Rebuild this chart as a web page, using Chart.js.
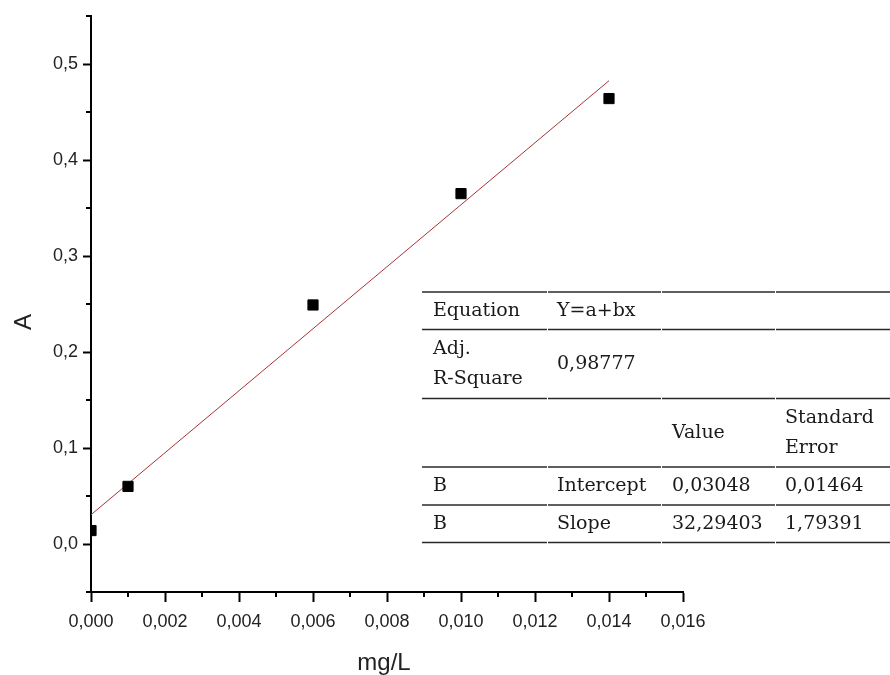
<!DOCTYPE html>
<html>
<head>
<meta charset="utf-8">
<style>
  html, body { margin: 0; padding: 0; background: #fff; }
  #calChart { display: block; }
</style>
<script src="https://cdn.jsdelivr.net/npm/chart.js@4.4.1/dist/chart.umd.min.js"></script>
</head>
<body>
<canvas id="calChart" width="890" height="675"></canvas>
<script>
// measured points (concentration in mg/L, absorbance)
const concentrations = [0, 0.001, 0.006, 0.010, 0.014];
const absorbances = [0.014, 0.060, 0.249, 0.365, 0.464];

// linear fit Y = a + bx drawn between the first and last concentration
const fitX = [0, 0.014];
const fitY = [0.0305, 0.4826];

const xMajorTicks = [0, 0.002, 0.004, 0.006, 0.008, 0.010, 0.012, 0.014, 0.016];
const xMinorTicks = [0.001, 0.003, 0.005, 0.007, 0.009, 0.011, 0.013, 0.015];
const yMajorTicks = [0, 0.1, 0.2, 0.3, 0.4, 0.5];
const yMinorTicks = [-0.05, 0.05, 0.15, 0.25, 0.35, 0.45, 0.55];

const xTitle = 'mg/L';
const yTitle = 'A';

const tableRows = [
	['Equation', 'Y=a+bx', '', ''],
	['Adj.\nR-Square', '0,98777', '', ''],
	['', '', 'Value', 'Standard\nError'],
	['B', 'Intercept', '0,03048', '0,01464'],
	['B', 'Slope', '32,29403', '1,79391'],
];

const canvas = document.querySelector('#calChart');
const sansFont = "'Liberation Sans', Arial, sans-serif";
const serifFont = "'DejaVu Serif', serif";

function commaNumber(value, digits) {
	return Number(value).toFixed(digits).replace('.', ',');
}

const minorTicks = {
	id: 'minorTicks',
	afterDraw(chart) {
		const { ctx, chartArea, scales } = chart;
		ctx.save();
		ctx.strokeStyle = '#000';
		ctx.lineWidth = 2;
		ctx.beginPath();
		for (const v of xMinorTicks) {
			const px = Math.round(scales.x.getPixelForValue(v));
			ctx.moveTo(px, chartArea.bottom);
			ctx.lineTo(px, chartArea.bottom + 5);
		}
		for (const v of yMinorTicks) {
			const py = Math.round(scales.y.getPixelForValue(v));
			ctx.moveTo(chartArea.left, py);
			ctx.lineTo(chartArea.left - 5, py);
		}
		ctx.stroke();
		ctx.restore();
	},
};

const axisTitles = {
	id: 'axisTitles',
	afterDraw(chart) {
		const { ctx } = chart;
		ctx.save();
		ctx.fillStyle = '#222';
		ctx.font = `24px ${sansFont}`;
		ctx.textAlign = 'center';
		ctx.textBaseline = 'middle';
		ctx.fillText(xTitle, 384, 663);
		ctx.translate(24, 322);
		ctx.rotate(-Math.PI / 2);
		ctx.fillText(yTitle, 0, 0);
		ctx.restore();
	},
};

const fitTable = {
	id: 'fitTable',
	afterDraw(chart) {
		const { ctx } = chart;
		const colLeft = [422, 548, 662, 776];
		const colRight = [547, 661, 775, 890];
		const textX = [433, 557, 672, 785];
		const rowLines = [292, 329.5, 398.5, 467, 505, 542.5];
		ctx.save();
		ctx.strokeStyle = '#2a2a2a';
		ctx.lineWidth = 1.5;
		for (const y of rowLines) {
			for (let c = 0; c < colLeft.length; c += 1) {
				ctx.beginPath();
				ctx.moveTo(colLeft[c], y);
				ctx.lineTo(colRight[c], y);
				ctx.stroke();
			}
		}
		ctx.fillStyle = '#1a1a1a';
		ctx.font = `19px ${serifFont}`;
		ctx.textAlign = 'left';
		ctx.textBaseline = 'middle';
		tableRows.forEach((row, r) => {
			const mid = (rowLines[r] + rowLines[r + 1]) / 2;
			row.forEach((cell, c) => {
				if (!cell) return;
				const lines = cell.split('\n');
				const lineGap = 30;
				const start = mid - ((lines.length - 1) * lineGap) / 2;
				lines.forEach((line, i) => ctx.fillText(line, textX[c], start + i * lineGap));
			});
		});
		ctx.restore();
	},
};

new Chart(canvas.getContext('2d'), {
	type: 'scatter',
	data: {
		datasets: [
			{
				type: 'line',
				data: fitX.map((x, i) => ({ x, y: fitY[i] })),
				borderColor: '#a83236',
				borderWidth: 1,
				pointRadius: 0,
				tension: 0,
				fill: false,
				order: 2,
			},
			{
				data: concentrations.map((x, i) => ({ x, y: absorbances[i] })),
				pointStyle: 'rect',
				pointRadius: 7.2,
				backgroundColor: '#000',
				borderColor: '#000',
				borderWidth: 1,
				clip: { left: 0, top: 0, right: 0, bottom: 0 },
				order: 1,
			},
		],
	},
	options: {
		responsive: false,
		animation: false,
		layout: { padding: { top: 16, right: 207, left: 0, bottom: 0 } },
		plugins: { legend: { display: false }, tooltip: { enabled: false } },
		scales: {
			x: {
				type: 'linear',
				min: 0,
				max: 0.016,
				afterBuildTicks: (scale) => { scale.ticks = xMajorTicks.map((value) => ({ value })); },
				afterFit: (scale) => { scale.height = 83; },
				ticks: {
					autoSkip: false,
					maxRotation: 0,
					padding: 9,
					color: '#222',
					font: { family: sansFont, size: 18 },
					callback: (value) => commaNumber(value, 3),
				},
				grid: { drawOnChartArea: false, tickLength: 10, tickWidth: 2, tickColor: '#000' },
				border: { color: '#000', width: 2 },
			},
			y: {
				type: 'linear',
				min: -0.05,
				max: 0.55,
				afterBuildTicks: (scale) => { scale.ticks = yMajorTicks.map((value) => ({ value })); },
				afterFit: (scale) => { scale.width = 91; },
				ticks: {
					autoSkip: false,
					padding: 5,
					color: '#222',
					font: { family: sansFont, size: 18 },
					callback: (value) => commaNumber(value, 1),
				},
				grid: { drawOnChartArea: false, tickLength: 8, tickWidth: 2, tickColor: '#000' },
				border: { color: '#000', width: 2 },
			},
		},
	},
	plugins: [minorTicks, axisTitles, fitTable],
});
</script>
</body>
</html>
